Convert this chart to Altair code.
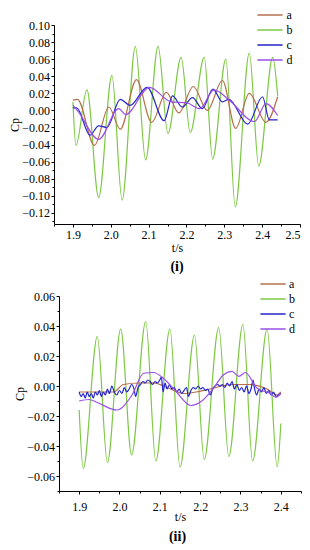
import altair as alt
import pandas as pd

SERIES = ["b", "a", "c", "d"]
LEGEND_ORDER = ["a", "b", "c", "d"]
COLORS = ["#b5704b", "#7dc843", "#2525c9", "#9b4fe8"]
FONT = "Liberation Serif"

# ---- panel (i) ----
T1_A = [1.900, 1.912, 1.957, 1.995, 2.025, 2.068, 2.108, 2.147, 2.180, 2.218, 2.255, 2.295, 2.330, 2.366, 2.410, 2.441]
V1_A = [0.012, 0.013, -0.041, 0.004, -0.022, 0.036, -0.014, 0.021, -0.003, 0.028, 0.000, 0.035, -0.021, 0.020, -0.014, 0.016]
T1_B = [1.900, 1.908, 1.937, 1.968, 2.003, 2.030, 2.065, 2.092, 2.125, 2.151, 2.186, 2.210, 2.247, 2.269, 2.304, 2.329, 2.366, 2.391, 2.428, 2.441]
V1_B = [0.010, -0.041, 0.024, -0.102, 0.041, -0.105, 0.075, -0.058, 0.075, -0.027, 0.062, -0.026, 0.062, -0.057, 0.060, -0.113, 0.067, -0.065, 0.062, 0.017]
T1_C = [1.900, 1.910, 1.945, 1.968, 1.990, 2.025, 2.051, 2.096, 2.141, 2.163, 2.189, 2.216, 2.242, 2.270, 2.295, 2.312, 2.362, 2.401, 2.419, 2.441]
V1_C = [0.003, 0.003, -0.029, -0.018, -0.020, 0.013, 0.006, 0.027, -0.012, 0.017, 0.004, 0.015, 0.002, 0.025, 0.010, 0.013, -0.016, 0.016, -0.011, -0.011]
T1_D = [1.900, 1.915, 1.968, 2.021, 2.039, 2.102, 2.160, 2.200, 2.235, 2.273, 2.313, 2.380, 2.410, 2.441]
V1_D = [0.006, -0.002, -0.034, 0.002, -0.005, 0.027, 0.010, 0.009, 0.002, 0.024, 0.012, -0.013, 0.008, -0.006]

X1_TICKS = [1.9, 2.0, 2.1, 2.2, 2.3, 2.4, 2.5]
X1_MINOR = [1.85, 1.95, 2.05, 2.15, 2.25, 2.35, 2.45]
Y1_TICKS = [-0.12, -0.10, -0.08, -0.06, -0.04, -0.02, 0.00, 0.02, 0.04, 0.06, 0.08, 0.10]
Y1_MINOR = [-0.13, -0.11, -0.09, -0.07, -0.05, -0.03, -0.01, 0.01, 0.03, 0.05, 0.07, 0.09]

# ---- panel (ii) ----
T2_A = [1.900, 1.940, 1.985, 2.010, 2.048, 2.085, 2.110, 2.135, 2.159, 2.190, 2.224, 2.279, 2.324, 2.366, 2.391, 2.400]
V2_A = [-0.004, -0.004, -0.004, 0.001, 0.002, 0.002, 0.000, -0.003, -0.005, -0.004, -0.002, 0.001, 0.001, -0.002, -0.006, -0.004]
T2_B = [1.900, 1.910, 1.945, 1.970, 2.003, 2.030, 2.065, 2.090, 2.125, 2.150, 2.186, 2.210, 2.246, 2.271, 2.306, 2.330, 2.366, 2.391, 2.400]
V2_B = [-0.016, -0.055, 0.033, -0.051, 0.038, -0.046, 0.043, -0.050, 0.038, -0.054, 0.034, -0.049, 0.039, -0.047, 0.041, -0.050, 0.038, -0.054, -0.025]
T2_C = [1.900, 1.905, 1.910, 1.915, 1.920, 1.925, 1.930, 1.935, 1.940, 1.945,
        1.950, 1.955, 1.960, 1.965, 1.970, 1.975, 1.981, 1.987, 1.993, 2.000,
        2.006, 2.012, 2.018, 2.024, 2.030, 2.036, 2.040, 2.046, 2.052, 2.058,
        2.064, 2.070, 2.076, 2.082, 2.088, 2.094, 2.100, 2.104, 2.108, 2.113,
        2.118, 2.124, 2.130, 2.136, 2.142, 2.148, 2.154, 2.160, 2.166, 2.171,
        2.177, 2.183, 2.189, 2.195, 2.201, 2.207, 2.213, 2.219, 2.225, 2.231,
        2.237, 2.243, 2.249, 2.255, 2.261, 2.267, 2.273, 2.279, 2.285, 2.291,
        2.297, 2.303, 2.309, 2.315, 2.321, 2.327, 2.331, 2.335, 2.340, 2.346,
        2.352, 2.358, 2.364, 2.370, 2.376, 2.382, 2.388, 2.394, 2.400]
V2_C = [-0.004, -0.007, -0.005, -0.008, -0.004, -0.007, -0.005, -0.008, -0.004, -0.006,
        -0.003, -0.007, -0.004, -0.006, -0.002, -0.005, 0.000, -0.004, -0.006, -0.003,
        -0.005, -0.001, -0.004, -0.002, 0.001, -0.002, -0.007, -0.001, 0.001, 0.003,
        0.002, 0.004, 0.003, 0.001, 0.003, 0.002, 0.004, 0.006, -0.004, 0.002,
        -0.002, 0.001, -0.002, -0.001, -0.004, -0.002, -0.005, -0.003, -0.001, -0.007,
        -0.003, -0.001, -0.002, 0.000, -0.002, -0.001, -0.003, -0.002, -0.006, -0.002,
        0.000, 0.001, 0.000, 0.001, -0.001, 0.002, 0.000, 0.003, -0.002, 0.001,
        -0.003, -0.001, -0.004, 0.000, -0.005, -0.001, 0.004, -0.002, -0.006, -0.002,
        -0.004, -0.001, -0.005, -0.003, -0.006, -0.004, -0.007, -0.006, -0.005]
T2_D = [1.900, 1.925, 1.945, 1.993, 2.031, 2.060, 2.085, 2.105, 2.135, 2.177, 2.204, 2.233, 2.258, 2.279, 2.296, 2.312, 2.341, 2.374, 2.387, 2.400]
V2_D = [-0.010, -0.009, -0.011, -0.016, -0.006, 0.0085, 0.009, 0.006, -0.002, -0.013, -0.010, -0.0015, 0.0075, 0.0097, 0.0064, 0.009, -0.0015, -0.005, -0.0075, -0.005]

X2_TICKS = [1.9, 2.0, 2.1, 2.2, 2.3, 2.4]
X2_MINOR = [1.85, 1.95, 2.05, 2.15, 2.25, 2.35, 2.45]
Y2_TICKS = [-0.06, -0.04, -0.02, 0.00, 0.02, 0.04, 0.06]
Y2_MINOR = [-0.07, -0.05, -0.03, -0.01, 0.01, 0.03, 0.05]


def frame(ts, vs):
    rows = []
    for s, tl, vl in zip(SERIES, ts, vs):
        assert len(tl) == len(vl), s
        rows += [{"t": a, "cp": b, "s": s} for a, b in zip(tl, vl)]
    return pd.DataFrame(rows)


def panel(df, xdom, ydom, xt, xm, yt, ym, w, h, tag, xrange, yoff,
          xlp, xtp, toff, lx, ly, lo):
    xs = alt.Scale(domain=xdom, nice=False, zero=False, range=xrange)
    ys = alt.Scale(domain=ydom, nice=False, zero=False)
    lines = alt.Chart(df).mark_line(strokeWidth=1.2, interpolate="monotone").encode(
        x=alt.X("t:Q", scale=xs,
                axis=alt.Axis(values=xt, format=".1f", title="t/s", orient="bottom",
                              tickSize=3, labelPadding=xlp, titlePadding=xtp)),
        y=alt.Y("cp:Q", scale=ys,
                axis=alt.Axis(values=yt, format=".2f", title="Cp", orient="left",
                              tickSize=3, labelPadding=1.5, titlePadding=0, offset=yoff)),
        color=alt.Color("s:N",
                        scale=alt.Scale(domain=LEGEND_ORDER, range=COLORS),
                        legend=alt.Legend(title=None, orient="none", legendX=lx, legendY=ly,
                                          symbolType="M-2.1,0H2.1", symbolSize=144,
                                          symbolStrokeWidth=1.5, labelOffset=lo,
                                          rowPadding=2, padding=0)),
    )
    minor = alt.Chart(df).mark_point(opacity=0).encode(
        x=alt.X("t:Q", scale=xs,
                axis=alt.Axis(values=xm, labels=False, title=None, tickSize=2,
                              domain=False, orient="bottom", grid=False)),
        y=alt.Y("cp:Q", scale=ys,
                axis=alt.Axis(values=ym, labels=False, title=None, tickSize=2,
                              domain=False, orient="left", grid=False, offset=yoff)),
    )
    return alt.layer(lines, minor).resolve_axis(x="independent", y="independent").properties(
        width=w, height=h,
        title=alt.TitleParams(tag, orient="bottom", fontWeight="bold", font=FONT,
                              fontSize=14, offset=toff, color="black"),
    )


df1 = frame([T1_B, T1_A, T1_C, T1_D], [V1_B, V1_A, V1_C, V1_D])
df2 = frame([T2_B, T2_A, T2_C, T2_D], [V2_B, V2_A, V2_C, V2_D])

top = panel(df1, [1.85, 2.5], [-0.133, 0.10], X1_TICKS, X1_MINOR, Y1_TICKS, Y1_MINOR,
            246, 199, "(i)", [0, 246], 0, 2.5, 2, 6.5, 209, -17, 9.5)
bottom = panel(df2, [1.85, 2.45], [-0.07, 0.06], X2_TICKS, X2_MINOR, Y2_TICKS, Y2_MINOR,
               247, 195, "(ii)", [5, 247], -5, 7, -1, 8, 212, -19, 9)

chart = alt.vconcat(top, bottom, spacing=3).resolve_scale(color="independent").properties(
    padding=0
).configure_view(stroke=None).configure_axis(
    labelFont=FONT, titleFont=FONT, labelFontSize=12, titleFontSize=12,
    labelColor="black", titleColor="black", domainColor="black", tickColor="black",
    grid=False, titleFontWeight="normal",
).configure_legend(labelFont=FONT, labelFontSize=12, labelColor="black")

chart.save("out.html", embed_options={"renderer": "svg", "actions": False})
